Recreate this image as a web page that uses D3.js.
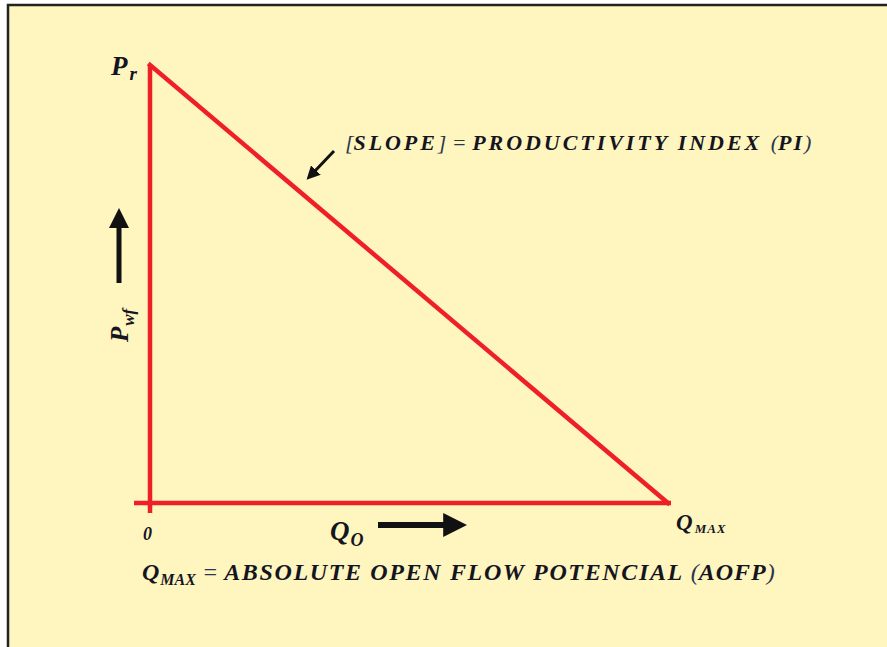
<!DOCTYPE html>
<html>
<head>
<meta charset="utf-8">
<script src="https://cdnjs.cloudflare.com/ajax/libs/d3/7.8.5/d3.min.js"></script>
<style>
  body { margin: 0; background: #fff; }
  text { font-family: "Liberation Serif", "DejaVu Serif", serif; font-weight: bold; font-style: italic; fill: #15151f; }
  .math { font-weight: normal; fill: #2a3550; }
</style>
</head>
<body>
<svg id="chart" width="887" height="647"></svg>
<script>
// straight-line IPR: pressure vs rate (normalized)
var rates = [0, 1];          // Qo / Qmax
var pressures = [1, 0];      // Pwf / Pr
var origin = [0, 0];

var width = 887,
    height = 647;

var svg = d3.select("#chart");

// frame
svg.append("rect")
    .attr("x", 8).attr("y", 5)
    .attr("width", 900).attr("height", 700)
    .attr("fill", "#fff6bf")
    .attr("stroke", "#222")
    .attr("stroke-width", 2.5);

var x = d3.scaleLinear().domain([0, 1]).range([150, 668]);
var y = d3.scaleLinear().domain([0, 1]).range([503, 65]);

var red = "#ee1f26";

// axes as plain red lines
svg.append("line")
    .attr("x1", x(0)).attr("y1", y(1))
    .attr("x2", x(0)).attr("y2", y(0) + 10)
    .attr("stroke", red).attr("stroke-width", 4.5);

svg.append("line")
    .attr("x1", x(0) - 16).attr("y1", y(0))
    .attr("x2", x(1) + 3).attr("y2", y(0))
    .attr("stroke", red).attr("stroke-width", 4.5);

var line = d3.line()
    .x(function(d, i) { return x(rates[i]); })
    .y(function(d, i) { return y(pressures[i]); });

svg.append("path")
    .datum(rates)
    .attr("d", line)
    .attr("fill", "none")
    .attr("stroke", red)
    .attr("stroke-width", 4.5)
    .attr("stroke-linecap", "square");

// arrow heads
var defs = svg.append("defs");
defs.append("marker")
    .attr("id", "head")
    .attr("viewBox", "0 0 10 10")
    .attr("refX", 2).attr("refY", 5)
    .attr("markerWidth", 4).attr("markerHeight", 4)
    .attr("orient", "auto")
    .append("path").attr("d", "M0,0 L10,5 L0,10 z").attr("fill", "#111");
defs.append("marker")
    .attr("id", "head2")
    .attr("viewBox", "0 0 10 10")
    .attr("refX", 2).attr("refY", 5)
    .attr("markerWidth", 4.5).attr("markerHeight", 4.5)
    .attr("orient", "auto")
    .append("path").attr("d", "M0,0 L10,5 L0,10 z").attr("fill", "#111");

// Qo arrow
svg.append("line")
    .attr("x1", 378).attr("y1", 525)
    .attr("x2", 448).attr("y2", 525)
    .attr("stroke", "#111").attr("stroke-width", 6)
    .attr("marker-end", "url(#head)");

// Pwf arrow
svg.append("line")
    .attr("x1", 119).attr("y1", 283)
    .attr("x2", 119).attr("y2", 224)
    .attr("stroke", "#111").attr("stroke-width", 5)
    .attr("marker-end", "url(#head)");

// slope arrow
svg.append("line")
    .attr("x1", 334).attr("y1", 151)
    .attr("x2", 314).attr("y2", 172)
    .attr("stroke", "#111").attr("stroke-width", 3)
    .attr("marker-end", "url(#head2)");

// labels
var pr = svg.append("text").attr("x", 111).attr("y", 75).style("font-size", "27px");
pr.append("tspan").text("P");
pr.append("tspan").attr("dx", 2).attr("dy", 5).style("font-size", "19px").text("r");

svg.append("text").attr("x", 143).attr("y", 540).style("font-size", "18px").text(origin[0]);

var qo = svg.append("text").attr("x", 330).attr("y", 540).style("font-size", "27px");
qo.append("tspan").text("Q");
qo.append("tspan").attr("dx", 1).attr("dy", 6).style("font-size", "18px").text("O");

var qm = svg.append("text").attr("x", 676).attr("y", 530).style("font-size", "23px");
qm.append("tspan").text("Q");
qm.append("tspan").attr("dx", 2).attr("dy", 3).style("font-size", "13px").style("letter-spacing", "1px").text("MAX");

var pwf = svg.append("text")
    .attr("transform", "translate(128,342) rotate(-90)")
    .style("font-size", "25px");
pwf.append("tspan").text("P");
pwf.append("tspan").attr("dx", 1).attr("dy", 6).style("font-size", "17px").text("wf");

var s = svg.append("text").attr("x", 345).attr("y", 150).style("font-size", "22px");
s.append("tspan").attr("class", "math").text("[");
s.append("tspan").style("letter-spacing", "2.9px").text("SLOPE");
s.append("tspan").attr("class", "math").text("] = ");
s.append("tspan").style("letter-spacing", "2.95px").text("PRODUCTIVITY INDEX ");
s.append("tspan").attr("class", "math").text("(");
s.append("tspan").style("letter-spacing", "2px").text("PI");
s.append("tspan").attr("class", "math").text(")");

var b = svg.append("text").attr("x", 142).attr("y", 580).style("font-size", "24px");
b.append("tspan").text("Q");
b.append("tspan").attr("dx", 1).attr("dy", 5).style("font-size", "16px").text("MAX");
b.append("tspan").attr("class", "math").attr("dy", -5).text(" = ");
b.append("tspan").style("letter-spacing", "1.65px").text("ABSOLUTE OPEN FLOW POTENCIAL ");
b.append("tspan").attr("class", "math").text("(");
b.append("tspan").style("letter-spacing", "1px").text("AOFP");
b.append("tspan").attr("class", "math").text(")");
</script>
</body>
</html>
